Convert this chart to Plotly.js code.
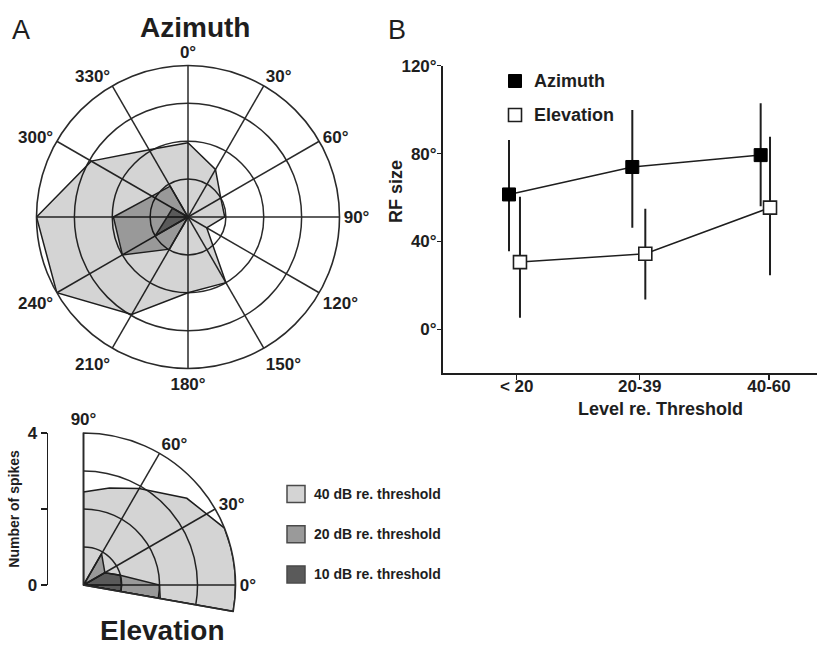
<!DOCTYPE html>
<html>
<head>
<meta charset="utf-8">
<script src="https://cdn.plot.ly/plotly-3.0.1.min.js"></script>
<style>html,body{margin:0;padding:0;background:#fff;}#chart{width:818px;height:646px;}</style>
</head>
<body>
<div id="chart"></div>
<script>
// ---------- Panel A : Azimuth (number of spikes per direction) ----------
const azimuthAngles = [0, 30, 60, 90, 120, 150, 180, 210, 240, 270, 300, 330];
const azimuthTickText = ['0°', '30°', '60°', '90°', '120°', '150°', '180°', '210°', '240°', '', '300°', '330°'];
const az40dB = [1.96, 1.45, 1.0, 0.97, 0.57, 2.0, 2.0, 2.97, 4.0, 4.0, 2.95, 2.05];
const az20dB = [0, 0, 0, 0, 0, 0, 0, 0.98, 2.0, 1.97, 1.1, 0.94];
const az10dB = [0, 0, 0, 0, 0, 0, 0, 0, 1.0, 0.55, 0.47, 0];

// ---------- Panel A : Elevation ----------
const elevAngles40 = [90, 90, 75, 60, 40, 22, 15, 10, 5, 0, -5, -10, -10];
const elev40dB = [0, 2.45, 2.64, 2.93, 3.55, 4.0, 4.0, 4.0, 4.0, 4.0, 4.0, 4.0, 0];
const elevAngles20 = [90, 60, 30, 15, 0, -10, -10];
const elev20dB = [0, 0.95, 0.65, 1.0, 2.0, 2.05, 0];
const elevAngles10 = [90, 30, 15, 0, -10, -10];
const elev10dB = [0, 0.64, 1.0, 1.0, 1.0, 0];
const elevTickVals = [-10, 0, 30, 60, 90];
const elevTickText = ['', '0°', '30°', '60°', '90°'];
const spikeTickVals = [0, 2, 4];
const spikeTickText = ['0', '', '4'];

const levelNames = ['40 dB re. threshold', '20 dB re. threshold', '10 dB re. threshold'];

// ---------- Panel B : RF size ----------
const levelTickVals = [10, 29.5, 50];
const levelTickText = ['< 20', '20-39', '40-60'];
const azX = [8.78, 28.33, 48.68];
const azY = [61.4, 73.9, 79.3];
const azErrPlus = [24.8, 25.9, 23.6];
const azErrMinus = [25.8, 27.6, 23.3];
const elX = [10.52, 30.39, 50.16];
const elY = [30.6, 34.4, 55.4];
const elErrPlus = [29.8, 20.5, 32.3];
const elErrMinus = [25.3, 20.8, 30.8];
const rfTickVals = [0, 40, 80, 120];
const rfTickText = ['0°', '40°', '80°', '120°'];

// ---------- styling ----------
const W = 818, H = 646;
const px = x => x / W;
const py = y => 1 - y / H;
const FONT = 'Liberation Sans, Arial, Helvetica, sans-serif';
const INK = '#1e1e1e';
const GRID = '#2a2a2a';
// translucent black fills so the grid stays visible through the polygons
const fill40 = 'rgba(0,0,0,0.17)';
const fill20 = 'rgba(0,0,0,0.28)';
const fill10 = 'rgba(0,0,0,0.41)';
const swatch = ['#d4d4d4', '#9a9a9a', '#5a5a5a'];

function closeLoop(a) { return a.concat([a[0]]); }

const traces = [];
[[az40dB, fill40], [az20dB, fill20], [az10dB, fill10]].forEach(([r, f], i) => {
  traces.push({
    type: 'scatterpolar', subplot: 'polar', mode: 'lines',
    r: closeLoop(r), theta: closeLoop(azimuthAngles),
    fill: 'toself', fillcolor: f,
    line: {color: INK, width: 1.5},
    name: levelNames[i], showlegend: false, hoverinfo: 'skip'
  });
});
[[elev40dB, elevAngles40, fill40], [elev20dB, elevAngles20, fill20], [elev10dB, elevAngles10, fill10]].forEach(([r, t, f], i) => {
  traces.push({
    type: 'scatterpolar', subplot: 'polar2', mode: 'lines',
    r: r, theta: t,
    fill: 'toself', fillcolor: f,
    line: {color: INK, width: 1.5},
    name: levelNames[i], showlegend: false, hoverinfo: 'skip'
  });
});
// carrier for the "number of spikes" axis
traces.push({type: 'scatter', x: [], y: [], xaxis: 'x2', yaxis: 'y2', showlegend: false, hoverinfo: 'skip'});

traces.push({
  type: 'scatter', mode: 'lines+markers', x: azX, y: azY, name: 'Azimuth',
  line: {color: INK, width: 1.5},
  marker: {symbol: 'square', size: 13, color: '#000', line: {color: '#000', width: 1}},
  error_y: {type: 'data', symmetric: false, array: azErrPlus, arrayminus: azErrMinus, color: INK, thickness: 2, width: 0},
  cliponaxis: false, showlegend: false
});
traces.push({
  type: 'scatter', mode: 'lines+markers', x: elX, y: elY, name: 'Elevation',
  line: {color: INK, width: 1.5},
  marker: {symbol: 'square', size: 13, color: '#fff', line: {color: INK, width: 1.6}},
  error_y: {type: 'data', symmetric: false, array: elErrPlus, arrayminus: elErrMinus, color: INK, thickness: 2, width: 0},
  cliponaxis: false, showlegend: false
});

const tickFontBold = {family: FONT, size: 17, color: INK, weight: 'bold'};

// Azimuth polar: centre (188,217), radius 151.5 px
const azC = [188, 217], azR = 151.5;
// Elevation polar (sector -10..90): centre (83.5,585), radius 152 px
const elC = [83.5, 585], elR = 152;

const layout = {
  width: W, height: H,
  margin: {l: 0, r: 0, t: 0, b: 0},
  paper_bgcolor: '#fff', plot_bgcolor: '#fff',
  font: {family: FONT, color: INK},
  showlegend: false,
  polar: {
    domain: {x: [px(azC[0] - azR), px(azC[0] + azR)], y: [py(azC[1] + azR), py(azC[1] - azR)]},
    bgcolor: '#fff',
    angularaxis: {
      rotation: 90, direction: 'clockwise',
      tickvals: azimuthAngles, ticktext: azimuthTickText,
      ticks: '', showline: true, linecolor: GRID, linewidth: 1.6,
      showgrid: true, gridcolor: GRID, gridwidth: 1.5,
      tickfont: tickFontBold
    },
    radialaxis: {
      range: [0, 4], tickvals: [1, 2, 3], showticklabels: false, ticks: '',
      showline: false, showgrid: true, gridcolor: GRID, gridwidth: 1.5
    }
  },
  polar2: {
    domain: {x: [px(elC[0]), px(elC[0] + elR)], y: [py(elC[1] + elR * Math.sin(10 * Math.PI / 180)), py(elC[1] - elR)]},
    sector: [-10, 90],
    bgcolor: '#fff',
    angularaxis: {
      rotation: 0, direction: 'counterclockwise',
      tickvals: elevTickVals, ticktext: elevTickText,
      ticks: '', showline: true, linecolor: GRID, linewidth: 1.6,
      showgrid: true, gridcolor: GRID, gridwidth: 1.5,
      tickfont: tickFontBold
    },
    radialaxis: {
      range: [0, 4], tickvals: [1, 2, 3], showticklabels: false, ticks: '',
      showline: false, showgrid: true, gridcolor: GRID, gridwidth: 1.5
    }
  },
  xaxis2: {domain: [px(48), px(60)], anchor: 'y2', visible: false, range: [0, 1]},
  yaxis2: {
    domain: [py(585), py(433)], anchor: 'x2', range: [0, 4],
    tickvals: spikeTickVals, ticktext: spikeTickText,
    ticks: 'outside', ticklen: 6, tickwidth: 1.5, tickcolor: INK,
    showline: true, linecolor: INK, linewidth: 1.5, showgrid: false, zeroline: false,
    tickfont: tickFontBold,
    title: {text: 'Number of spikes', font: {family: FONT, size: 14, color: INK, weight: 'bold'}, standoff: 4}
  },
  xaxis: {
    domain: [px(443), px(817)], anchor: 'y', range: [-1.684, 57.61],
    tickvals: levelTickVals, ticktext: levelTickText,
    ticks: 'outside', ticklen: 5, tickwidth: 1.5, tickcolor: INK,
    showline: true, linecolor: INK, linewidth: 2, showgrid: false, zeroline: false,
    tickfont: tickFontBold, ticklabelstandoff: -9
  },
  yaxis: {
    domain: [py(373.3), py(65.7)], anchor: 'x', range: [-20, 120],
    tickvals: rfTickVals, ticktext: rfTickText,
    ticks: 'outside', ticklen: 4, tickwidth: 1.5, tickcolor: INK,
    showline: true, linecolor: INK, linewidth: 2, showgrid: false, zeroline: false,
    tickfont: tickFontBold, ticklabelstandoff: -3
  },
  annotations: [
    {text: 'A', x: px(10), y: py(30), xref: 'paper', yref: 'paper', xanchor: 'left', yanchor: 'middle', showarrow: false, font: {family: FONT, size: 27, color: INK}},
    {text: 'Azimuth', x: px(195), y: py(27), xref: 'paper', yref: 'paper', xanchor: 'center', yanchor: 'middle', showarrow: false, font: {family: FONT, size: 28, color: INK, weight: 'bold'}},
    {text: 'B', x: px(386), y: py(30), xref: 'paper', yref: 'paper', xanchor: 'left', yanchor: 'middle', showarrow: false, font: {family: FONT, size: 27, color: INK}},
    {text: 'Elevation', x: px(162), y: py(630), xref: 'paper', yref: 'paper', xanchor: 'center', yanchor: 'middle', showarrow: false, font: {family: FONT, size: 28, color: INK, weight: 'bold'}},
    {text: 'RF size', x: px(396), y: py(192), xref: 'paper', yref: 'paper', xanchor: 'center', yanchor: 'middle', textangle: -90, showarrow: false, font: {family: FONT, size: 18, color: INK, weight: 'bold'}},
    {text: 'Level re. Threshold', x: px(660), y: py(409), xref: 'paper', yref: 'paper', xanchor: 'center', yanchor: 'middle', showarrow: false, font: {family: FONT, size: 18, color: INK, weight: 'bold'}},
    {text: 'Azimuth', x: px(532), y: py(81), xref: 'paper', yref: 'paper', xanchor: 'left', yanchor: 'middle', showarrow: false, font: {family: FONT, size: 18, color: INK, weight: 'bold'}},
    {text: 'Elevation', x: px(532), y: py(115), xref: 'paper', yref: 'paper', xanchor: 'left', yanchor: 'middle', showarrow: false, font: {family: FONT, size: 18, color: INK, weight: 'bold'}}
  ].concat(levelNames.map((t, i) => ({
    text: t, x: px(312), y: py(494 + 40.2 * i), xref: 'paper', yref: 'paper', xanchor: 'left', yanchor: 'middle', showarrow: false,
    font: {family: FONT, size: 14, color: INK, weight: 'bold'}
  }))),
  shapes: [
    {type: 'rect', xref: 'paper', yref: 'paper', x0: px(508.5), x1: px(521.5), y0: py(87.5), y1: py(74.5), fillcolor: '#000', line: {color: '#000', width: 1}},
    {type: 'rect', xref: 'paper', yref: 'paper', x0: px(508.5), x1: px(521.5), y0: py(121.5), y1: py(108.5), fillcolor: '#fff', line: {color: INK, width: 1.6}}
  ].concat(swatch.map((c, i) => ({
    type: 'rect', xref: 'paper', yref: 'paper',
    x0: px(287), x1: px(305), y0: py(494 + 40.2 * i + 8.5), y1: py(494 + 40.2 * i - 8.5),
    fillcolor: c, line: {color: '#4a4a4a', width: 1.5}
  })))
};

Plotly.newPlot('chart', traces, layout, {staticPlot: true, displayModeBar: false});
</script>
</body>
</html>
